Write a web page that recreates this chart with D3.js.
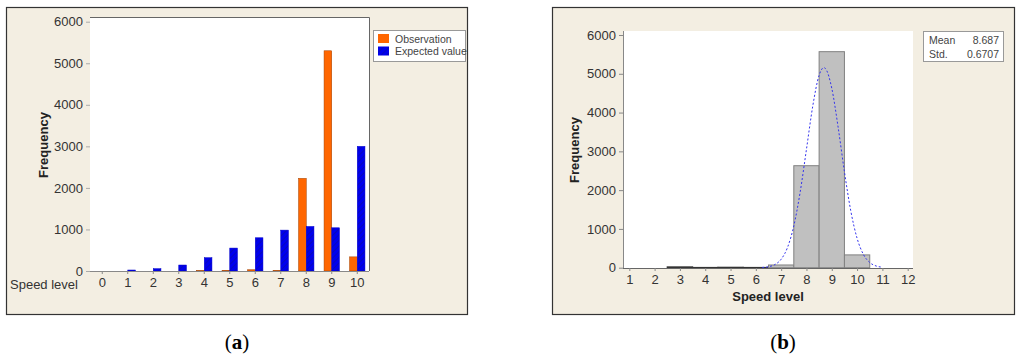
<!DOCTYPE html>
<html><head><meta charset="utf-8">
<script src="https://cdn.jsdelivr.net/npm/d3@7"></script>
<style>body{margin:0;background:#fff}svg{display:block}</style>
</head><body><svg id="c" width="1024" height="360" font-family="Liberation Sans, Arial, sans-serif"></svg>
<script>
// ---- data (a) ----
const levelsA = [0,1,2,3,4,5,6,7,8,9,10];
const observation = [0,0,0,0,10,15,30,15,2230,5300,340];
const expected = [0,24,56,144,320,552,800,984,1072,1040,3000];
const seriesA = ["Observation","Expected value"];
const yTicks = [0,1000,2000,3000,4000,5000,6000];
// ---- data (b) ----
const binsB = [3,4,5,6,7,8,9,10];
const freqB = [20,5,10,5,70,2630,5570,330];
const ticksB = [1,2,3,4,5,6,7,8,9,10,11,12];
const curveX = [6.25,6.5,6.75,7,7.25,7.5,7.75,8,8.25,8.5,8.687,8.75,9,9.25,9.5,9.75,10,10.25,10.5,10.75,11];
const curveY = [7,25,80,218,520,1077,1944,3053,4172,4962,5159,5136,4627,3627,2475,1469,759,342,134,45,13];
const statLabels = ["Mean","Std."];
const statValues = ["8.687","0.6707"];

const svg = d3.select("#c");
const bg = "#f3eee2";
const sans = "Liberation Sans, Arial, sans-serif";
const defs = svg.append("defs");
const pat = defs.append("pattern").attr("id","hatch").attr("patternUnits","userSpaceOnUse")
  .attr("width",4).attr("height",4).attr("patternTransform","rotate(45)");
pat.append("rect").attr("width",4).attr("height",4).attr("fill","#0000ee");
pat.append("line").attr("x1",0).attr("y1",0).attr("x2",0).attr("y2",4).attr("stroke","#10108a").attr("stroke-width",1);

// ===== Panel (a) =====
const A = svg.append("g");
A.append("rect").attr("x",6.5).attr("y",7.5).attr("width",461).attr("height",307)
  .attr("fill",bg).attr("stroke","#333").attr("stroke-width",1.2);
const pA = {l:90,r:369,t:17,b:271};
A.append("rect").attr("x",pA.l).attr("y",pA.t).attr("width",pA.r-pA.l).attr("height",pA.b-pA.t).attr("fill","#fff");
const xA = d3.scaleBand().domain(levelsA).range([89.5,370]).paddingInner(0).paddingOuter(0);
const xs = d3.scaleBand().domain(seriesA).range([0,15.4]);
const yA = d3.scaleLinear().domain([0,6000]).range([271,21.7]);
A.append("path").attr("d",`M${pA.l},${pA.t+0.5}H${pA.r+0.5}V${pA.b}`).attr("fill","none").attr("stroke","#666").attr("stroke-width",1);
const colors = {"Observation":"#ff6600","Expected value":"url(#hatch)"};
const dataA = levelsA.map((l,i)=>({l, v:[observation[i],expected[i]]}));
A.selectAll("g.grp").data(dataA).join("g").attr("class","grp")
 .attr("transform",d=>`translate(${xA(d.l)+xA.bandwidth()/2-7.7},0)`)
 .selectAll("rect").data(d=>seriesA.map((s,j)=>({s,v:d.v[j]}))).join("rect")
 .attr("x",d=>xs(d.s)).attr("width",xs.bandwidth())
 .attr("y",d=>yA(d.v)).attr("height",d=>yA(0)-yA(d.v))
 .attr("fill",d=>colors[d.s])
 .attr("stroke",d=>d.v>0?(d.s==="Observation"?"#a04000":"#0000cc"):"none").attr("stroke-width",0.5);
const yaxA = A.append("g").attr("transform",`translate(${pA.l},0)`)
 .call(d3.axisLeft(yA).tickValues(yTicks).tickFormat(d3.format("d")).tickSize(4).tickPadding(3));
yaxA.select(".domain").remove();
yaxA.selectAll("line").attr("stroke","#aaa");
yaxA.selectAll("text").attr("font-size",13).attr("fill","#333").style("font-family",sans);
const xaxA = A.append("g").attr("transform",`translate(0,${pA.b})`)
 .call(d3.axisBottom(xA).tickSize(3).tickPadding(4));
xaxA.select(".domain").attr("stroke","#888").attr("d",`M${pA.l},0.5H${pA.r}`);
xaxA.selectAll("line").attr("stroke","#888");
xaxA.selectAll("text").attr("font-size",13).attr("fill","#333").style("font-family",sans);
A.append("text").attr("x",10).attr("y",289).attr("font-size",13).attr("fill","#333").text("Speed level");
A.append("text").attr("transform","translate(48,145) rotate(-90)").attr("text-anchor","middle")
 .attr("font-size",13).attr("font-weight","bold").attr("fill","#222").text("Frequency");
const lg = A.append("g");
lg.append("rect").attr("x",373.5).attr("y",30.5).attr("width",92).attr("height",31).attr("fill","#fff").attr("stroke","#999");
lg.selectAll("rect.sw").data(seriesA).join("rect").attr("class","sw")
 .attr("x",378).attr("y",(d,i)=>34+i*12.5).attr("width",11).attr("height",9).attr("fill",d=>colors[d]);
lg.selectAll("text").data(seriesA).join("text").attr("x",395).attr("y",(d,i)=>42.5+i*12.5)
 .attr("font-size",10.5).attr("fill","#444").text(d=>d);

// ===== Panel (b) =====
const B = svg.append("g");
B.append("rect").attr("x",552.5).attr("y",7.5).attr("width",462).attr("height",307)
  .attr("fill",bg).attr("stroke","#333").attr("stroke-width",1.2);
const pB = {l:623,r:913,t:31,b:268};
B.append("rect").attr("x",pB.l).attr("y",pB.t).attr("width",pB.r-pB.l).attr("height",pB.b-pB.t).attr("fill","#fff");
const xB = d3.scaleLinear().domain([1,12]).range([629.3,907.7]);
const yB = d3.scaleLinear().domain([0,6000]).range([267.7,35]);
B.selectAll("rect.bin").data(binsB.map((b,i)=>({b,v:freqB[i]}))).join("rect").attr("class","bin")
 .attr("x",d=>xB(d.b-0.5)).attr("width",d=>xB(d.b+0.5)-xB(d.b-0.5))
 .attr("y",d=>yB(d.v)).attr("height",d=>yB(0)-yB(d.v))
 .attr("fill","#c0c0c0").attr("stroke",d=>d.v<30?"#333":"#808080").attr("stroke-width",d=>d.v<30?1.2:1);
const line = d3.line().x(d=>xB(d[0])).y(d=>yB(d[1])).curve(d3.curveMonotoneX);
B.append("path").datum(curveX.map((x,i)=>[x,curveY[i]])).attr("d",line)
 .attr("fill","none").attr("stroke","#3333ee").attr("stroke-width",1).attr("stroke-dasharray","2,2");
const yaxB = B.append("g").attr("transform",`translate(${pB.l},0)`)
 .call(d3.axisLeft(yB).tickValues(yTicks).tickFormat(d3.format("d")).tickSize(4).tickPadding(3));
yaxB.select(".domain").attr("stroke","#888").attr("d",`M0.5,${pB.t}V${pB.b}`);
yaxB.selectAll("line").attr("stroke","#888");
yaxB.selectAll("text").attr("font-size",13).attr("fill","#333").style("font-family",sans);
const xaxB = B.append("g").attr("transform",`translate(0,${pB.b})`)
 .call(d3.axisBottom(xB).tickValues(ticksB).tickFormat(d3.format("d")).tickSize(3).tickPadding(4));
xaxB.select(".domain").attr("stroke","#666").attr("d",`M${pB.l},0.5H${pB.r}`);
xaxB.selectAll("line").attr("stroke","#888");
xaxB.selectAll("text").attr("font-size",13).attr("fill","#333").style("font-family",sans);
B.append("text").attr("x",768).attr("y",301).attr("text-anchor","middle").attr("font-size",13)
 .attr("font-weight","bold").attr("fill","#222").text("Speed level");
B.append("text").attr("transform","translate(579,150) rotate(-90)").attr("text-anchor","middle")
 .attr("font-size",13).attr("font-weight","bold").attr("fill","#222").text("Frequency");
const st = B.append("g");
st.append("rect").attr("x",923.5).attr("y",31.5).attr("width",80).attr("height",30).attr("fill","#fff").attr("stroke","#999");
st.selectAll("text.l").data(statLabels).join("text").attr("class","l").attr("x",929).attr("y",(d,i)=>44+i*14)
 .attr("font-size",10.5).attr("fill","#444").text(d=>d);
st.selectAll("text.v").data(statValues).join("text").attr("class","v").attr("x",999).attr("y",(d,i)=>44+i*14)
 .attr("text-anchor","end").attr("font-size",10.5).attr("fill","#444").text(d=>d);

// captions
const cap = [{x:237,t:"a"},{x:783,t:"b"}];
svg.selectAll("text.cap").data(cap).join("text").attr("class","cap").attr("x",d=>d.x).attr("y",349)
 .attr("text-anchor","middle").attr("font-size",21).style("font-family","Liberation Serif, 'Times New Roman', serif").attr("fill","#000")
 .call(t=>{t.append("tspan").text("(");t.append("tspan").attr("font-weight","bold").text(d=>d.t);t.append("tspan").text(")");});
</script></body></html>
